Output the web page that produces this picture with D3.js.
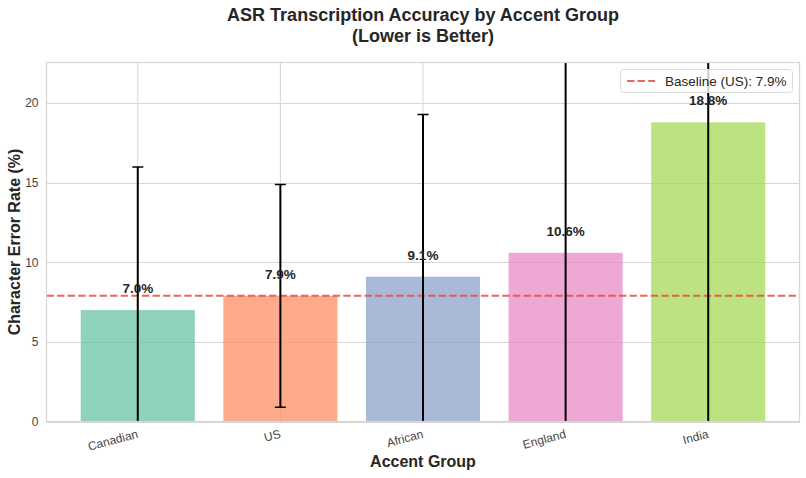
<!DOCTYPE html>
<html><head><meta charset="utf-8">
<script src="https://cdn.jsdelivr.net/npm/d3@7"></script>
<style>body{margin:0;background:#fff}svg{display:block;font-family:"Liberation Sans",Arial,sans-serif}</style>
</head><body><svg id="c" width="806" height="478"></svg>
<script>
const categories = ["Canadian","US","African","England","India"];
const cerValues = [7.0, 7.9, 9.1, 10.6, 18.8];
const cerErrors = [9.0, 7.0, 10.2, 14.5, 21.0];
const barColors = ["#66c2a5","#fc8d62","#8da0cb","#e78ac3","#a6d854"];
const yTicks = [0,5,10,15,20];
const baselineValue = 7.9;
const baselineLabel = "Baseline (US): 7.9%";

const svg = d3.select("#c");
const L=46.5, R=799.5, T=62.5, B=421.5;
const x = d3.scaleLinear().domain([-0.64, 4.64]).range([L,R]);
const y = d3.scaleLinear().domain([0, d3.max(cerValues)*1.2]).range([B,T]);
const bw = x(0.4)-x(-0.4);

svg.append("defs").append("clipPath").attr("id","clip").append("rect")
  .attr("x",L).attr("y",T).attr("width",R-L).attr("height",B-T);

// grid
const g = svg.append("g");
g.selectAll(".gy").data(yTicks).join("line")
  .attr("x1",L).attr("x2",R).attr("y1",d=>Math.round(y(d))+0.5).attr("y2",d=>Math.round(y(d))+0.5)
  .attr("stroke","#d6d6d6").attr("stroke-width",1);
g.selectAll(".gx").data(categories).join("line")
  .attr("x1",(d,i)=>x(i)).attr("x2",(d,i)=>x(i)).attr("y1",T).attr("y2",B)
  .attr("stroke","#d6d6d6").attr("stroke-width",1);

const plot = svg.append("g").attr("clip-path","url(#clip)");
plot.selectAll(".bar").data(cerValues).join("rect")
  .attr("x",(d,i)=>x(i)-bw/2).attr("width",bw)
  .attr("y",d=>y(d)).attr("height",d=>y(0)-y(d))
  .attr("fill",(d,i)=>barColors[i]).attr("fill-opacity",0.74);

// baseline
plot.append("line").attr("x1",L).attr("x2",R).attr("y1",y(baselineValue)).attr("y2",y(baselineValue))
  .attr("stroke","#e74c3c").attr("stroke-width",2).attr("stroke-dasharray","7.4,3.2").attr("stroke-opacity",0.85);

// error bars
cerValues.forEach((v,i)=>{
  const e = cerErrors[i], cx = x(i);
  plot.append("line").attr("x1",cx).attr("x2",cx).attr("y1",y(v-e)).attr("y2",y(v+e))
    .attr("stroke","#000").attr("stroke-width",2);
  [v-e, v+e].forEach(w=>{
    plot.append("line").attr("x1",cx-5.5).attr("x2",cx+5.5).attr("y1",y(w)).attr("y2",y(w))
      .attr("stroke","#000").attr("stroke-width",1.5);
  });
});

// value labels
svg.selectAll(".vl").data(cerValues).join("text")
  .attr("x",(d,i)=>x(i)).attr("y",d=>y(d+1.0)-1)
  .attr("text-anchor","middle").attr("font-weight","bold").attr("font-size",13.5).attr("fill","#262626")
  .text(d=>d.toFixed(1)+"%");

// frame
svg.append("rect").attr("x",L).attr("y",T).attr("width",R-L).attr("height",B-T)
  .attr("fill","none").attr("stroke","#d6d6d6").attr("stroke-width",1.2);

// y ticks
svg.selectAll(".yt").data(yTicks).join("text")
  .attr("x",L-8).attr("y",d=>y(d)).attr("dy","0.35em").attr("text-anchor","end")
  .attr("font-size",12).attr("fill","#444").text(d=>d);

// x ticks
svg.selectAll(".xt").data(categories).join("text")
  .attr("transform",(d,i)=>`translate(${x(i)+1},${B+16}) rotate(-15)`)
  .attr("text-anchor","end")
  .attr("font-size",12).attr("fill","#444").text(d=>d);

// axis titles
svg.append("text").attr("x",(L+R)/2).attr("y",467).attr("text-anchor","middle")
  .attr("font-weight","bold").attr("font-size",16).attr("fill","#262626").text("Accent Group");
svg.append("text").attr("transform",`translate(20,${(T+B)/2}) rotate(-90)`).attr("text-anchor","middle")
  .attr("font-weight","bold").attr("font-size",16).attr("fill","#262626").text("Character Error Rate (%)");

// title
svg.append("text").attr("x",(L+R)/2).attr("y",21).attr("text-anchor","middle")
  .attr("font-weight","bold").attr("font-size",18).attr("fill","#262626").text("ASR Transcription Accuracy by Accent Group");
svg.append("text").attr("x",(L+R)/2).attr("y",42).attr("text-anchor","middle")
  .attr("font-weight","bold").attr("font-size",18).attr("fill","#262626").text("(Lower is Better)");

// legend
const lg = svg.append("g");
lg.append("rect").attr("x",620.5).attr("y",69.5).attr("width",172).attr("height",23).attr("rx",3)
  .attr("fill","#fff").attr("fill-opacity",0.8).attr("stroke","#dcdcdc");
lg.append("line").attr("x1",627).attr("x2",655).attr("y1",81).attr("y2",81)
  .attr("stroke","#e74c3c").attr("stroke-width",2).attr("stroke-dasharray","7.4,3.2").attr("stroke-opacity",0.85);
lg.append("text").attr("x",665).attr("y",81).attr("dy","0.35em").attr("font-size",13.5).attr("fill","#262626").text(baselineLabel);
</script></body></html>
